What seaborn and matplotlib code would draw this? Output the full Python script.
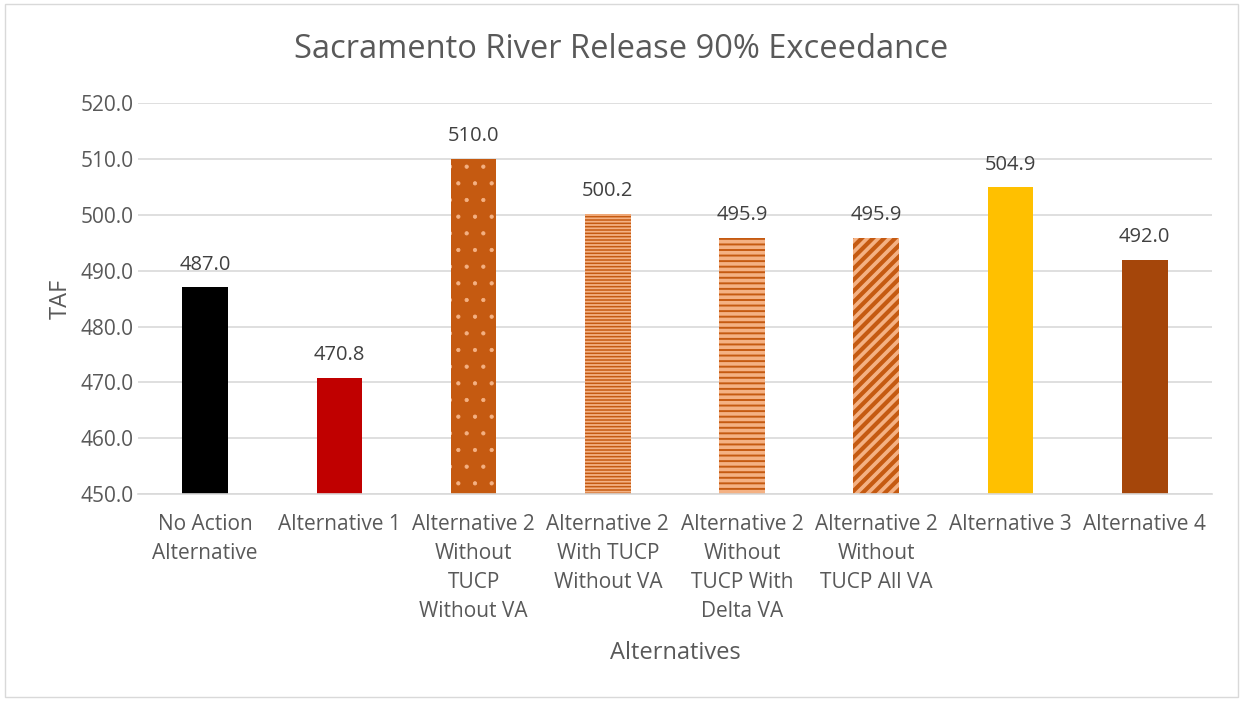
import matplotlib
matplotlib.use("Agg")
import matplotlib.pyplot as plt
import seaborn as sns
import pandas as pd
from matplotlib.patches import Rectangle

categories = ["No Action\nAlternative", "Alternative 1", "Alternative 2\nWithout\nTUCP\nWithout VA",
              "Alternative 2\nWith TUCP\nWithout VA", "Alternative 2\nWithout\nTUCP With\nDelta VA",
              "Alternative 2\nWithout\nTUCP All VA", "Alternative 3", "Alternative 4"]
values = [487.0, 470.8, 510.0, 500.2, 495.9, 495.9, 504.9, 492.0]
face_colors = ["#000000", "#C00000", "#C55A11", "#C55A11", "#C55A11", "#F4B183", "#FFC000", "#A5460A"]
hatch_colors = [None, None, "#F4B183", "#F4B183", "#F4B183", "#C55A11", None, None]
hatches = [None, None, ".", "-----", "---", "///", None, None]
hatch_widths = [None, None, 0.6, 1.3, 2.6, 3.0, None, None]
yticks = [450, 460, 470, 480, 490, 500, 510, 520]

sns.set_theme(style="white")
plt.rcParams["font.family"] = ["Open Sans", "DejaVu Sans"]
plt.rcParams["hatch.linewidth"] = 3.0

df = pd.DataFrame({"cat": categories, "val": values})
fig = plt.figure(figsize=(12.43, 7.01), dpi=100)
ax = fig.add_axes([0.111, 0.295, 0.864, 0.558])
sns.barplot(data=df, x="cat", y="val", ax=ax, width=0.34, color="#000000", saturation=1)

for i, p in enumerate(ax.patches):
    p.set_facecolor(face_colors[i])
    if hatches[i]:
        p.set_edgecolor(hatch_colors[i])
        p.set_hatch(hatches[i])
        p.set_linewidth(0)
        if hasattr(p, "set_hatch_linewidth"):
            p.set_hatch_linewidth(hatch_widths[i])
    else:
        p.set_edgecolor(face_colors[i])
        p.set_linewidth(0)
    ax.text(p.get_x() + p.get_width() / 2, values[i] + 2.3, f"{values[i]:.1f}",
            ha="center", va="bottom", fontsize=14.5, color="#404040")

ax.set_ylim(450, 520)
ax.set_yticks(yticks)
ax.set_yticklabels([f"{v:.1f}" for v in yticks], fontsize=15, color="#595959")
ax.tick_params(axis="x", labelsize=15, labelcolor="#595959", length=0, pad=14)
ax.tick_params(axis="y", length=0, pad=3)
for lab in ax.get_xticklabels():
    lab.set_linespacing(1.5)
ax.grid(axis="y", color="#D9D9D9", linewidth=1.2)
ax.set_axisbelow(True)
for s in ["top", "right", "left"]:
    ax.spines[s].set_visible(False)
ax.spines["bottom"].set_color("#D9D9D9")
ax.spines["bottom"].set_linewidth(1.2)
ax.set_xlabel("Alternatives", fontsize=17, color="#595959", labelpad=14)
ax.set_ylabel("TAF", fontsize=17, color="#595959", labelpad=6)
fig.text(0.5, 0.93, "Sacramento River Release 90% Exceedance", ha="center", va="center",
         fontsize=23.5, color="#595959")
fig.patches.append(Rectangle((0.004, 0.006), 0.992, 0.988, transform=fig.transFigure,
                             fill=False, edgecolor="#D9D9D9", linewidth=1))
fig.savefig("out.png", dpi=100)
